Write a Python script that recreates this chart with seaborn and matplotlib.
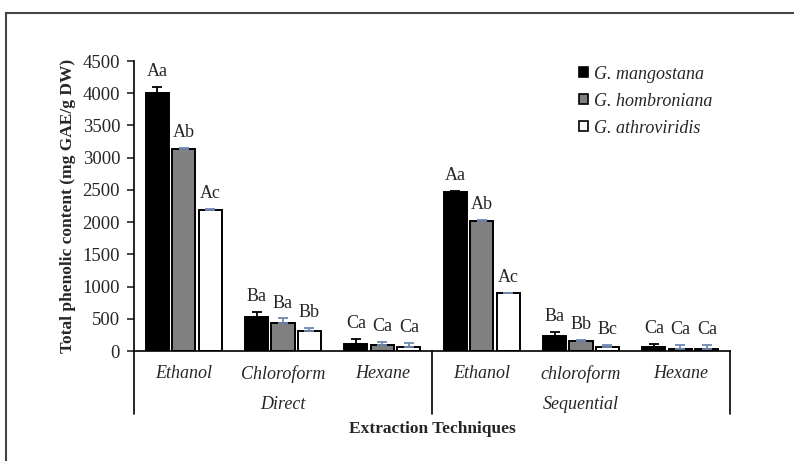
import numpy as np
import pandas as pd
import matplotlib
matplotlib.use("Agg")
import matplotlib.pyplot as plt
import seaborn as sns
from matplotlib.patches import Rectangle

# Data
techniques = ["Direct", "Sequential"]
solvents = ["Ethanol", "Chloroform", "Hexane", "Ethanol", "chloroform", "Hexane"]
species = ["G. mangostana", "G. hombroniana", "G. athroviridis"]

mangostana = [4010, 533, 114, 2462, 238, 57]
hombroniana = [3130, 435, 88, 2017, 150, 35]
athroviridis = [2182, 311, 62, 897, 67, 28]

mangostana_err = [80, 78, 68, 15, 52, 55]
hombroniana_err = [25, 70, 56, 10, 22, 60]
athroviridis_err = [25, 52, 62, 10, 25, 60]

mangostana_lbl = ["Aa", "Ba", "Ca", "Aa", "Ba", "Ca"]
hombroniana_lbl = ["Ab", "Ba", "Ca", "Ab", "Bb", "Ca"]
athroviridis_lbl = ["Ac", "Bb", "Ca", "Ac", "Bc", "Ca"]

# Long table for seaborn (unique key per technique/solvent pair)
keys = [f"{techniques[i // 3]} {solvents[i]}" for i in range(6)]
df = pd.DataFrame({
    "group": keys * 3,
    "species": np.repeat(species, 6),
    "value": mangostana + hombroniana + athroviridis,
    "err": mangostana_err + hombroniana_err + athroviridis_err,
    "lbl": mangostana_lbl + hombroniana_lbl + athroviridis_lbl,
})

sns.set_style("white")
plt.rcParams["font.family"] = ["Liberation Serif", "DejaVu Serif"]

fig = plt.figure(figsize=(7.94, 4.61), dpi=100)
ax = fig.add_axes([134 / 794, 1 - 351 / 461, 596 / 794, 290 / 461])

palette = {species[0]: "black", species[1]: "#808080", species[2]: "white"}
sns.barplot(data=df, x="group", y="value", hue="species", order=keys,
            hue_order=species, palette=palette, errorbar=None, width=0.8,
            gap=0.12, edgecolor="black", linewidth=1.4, saturation=1, ax=ax)

# error bars and significance letters from the drawn bars
err_colors = ["black", "#7088b0", "#7088b0"]
for k, (cont, sp) in enumerate(zip(ax.containers, species)):
    sub = df[df.species == sp].set_index("group").loc[keys]
    xs = [p.get_x() + p.get_width() / 2 for p in cont]
    ys = sub["value"].values
    ax.errorbar(xs, ys, yerr=[np.zeros(6), sub["err"].values], fmt="none",
                ecolor=err_colors[k], elinewidth=1.3, capsize=3.5, capthick=1.3)
    for x, y, e, t in zip(xs, ys, sub["err"].values, sub["lbl"].values):
        ax.annotate(t, (x, y + e), xytext=(0, 5), textcoords="offset points",
                    ha="center", va="bottom", fontsize=13)

ax.set_ylim(0, 4500)
ax.set_yticks(range(0, 4501, 500))
ax.tick_params(axis="y", labelsize=13.5, length=5, width=1.2, direction="out",
               left=True, pad=5)
ax.set_xticks(range(6))
ax.set_xticklabels(solvents, fontstyle="italic", fontsize=13)
ax.tick_params(axis="x", length=0, pad=10)
ax.set_xlim(-0.5, 5.5)
ax.set_xlabel("")
ax.set_ylabel("Total phenolic content (mg GAE/g DW)", fontweight="bold",
              fontsize=12.5)
ax.yaxis.set_label_coords(-0.097, 0.5)

for side in ["top", "right"]:
    ax.spines[side].set_visible(False)
for side in ["left", "bottom"]:
    ax.spines[side].set_color("black")
    ax.spines[side].set_linewidth(1.2)

# multi-level category axis
trans = ax.get_xaxis_transform()
for xv in [-0.5, 2.5, 5.5]:
    ax.plot([xv, xv], [0, -63 / 290], transform=trans, color="black",
            lw=1.2, clip_on=False)
for i, t in enumerate(techniques):
    ax.text(1 + 3 * i, -53 / 290, t, transform=trans, ha="center",
            va="center", fontstyle="italic", fontsize=13)
ax.text(2.5, -78 / 290, "Extraction Techniques", transform=trans,
        ha="center", va="center", fontweight="bold", fontsize=12.5)

leg = ax.legend(loc="upper left", bbox_to_anchor=(0.72, 1.04), frameon=False,
                prop={"style": "italic", "size": 13}, handlelength=0.5,
                handleheight=0.5, handletextpad=0.3, labelspacing=0.55)
for h in leg.legend_handles:
    h.set_edgecolor("black")
    h.set_linewidth(1.2)

# chart area border
fig.patches.append(Rectangle((6 / 794, -0.1), 1.2, 1 - 13 / 461 + 0.1,
                             transform=fig.transFigure, fill=False,
                             edgecolor="#444444", lw=1.5))

fig.savefig("out.png", dpi=100)
